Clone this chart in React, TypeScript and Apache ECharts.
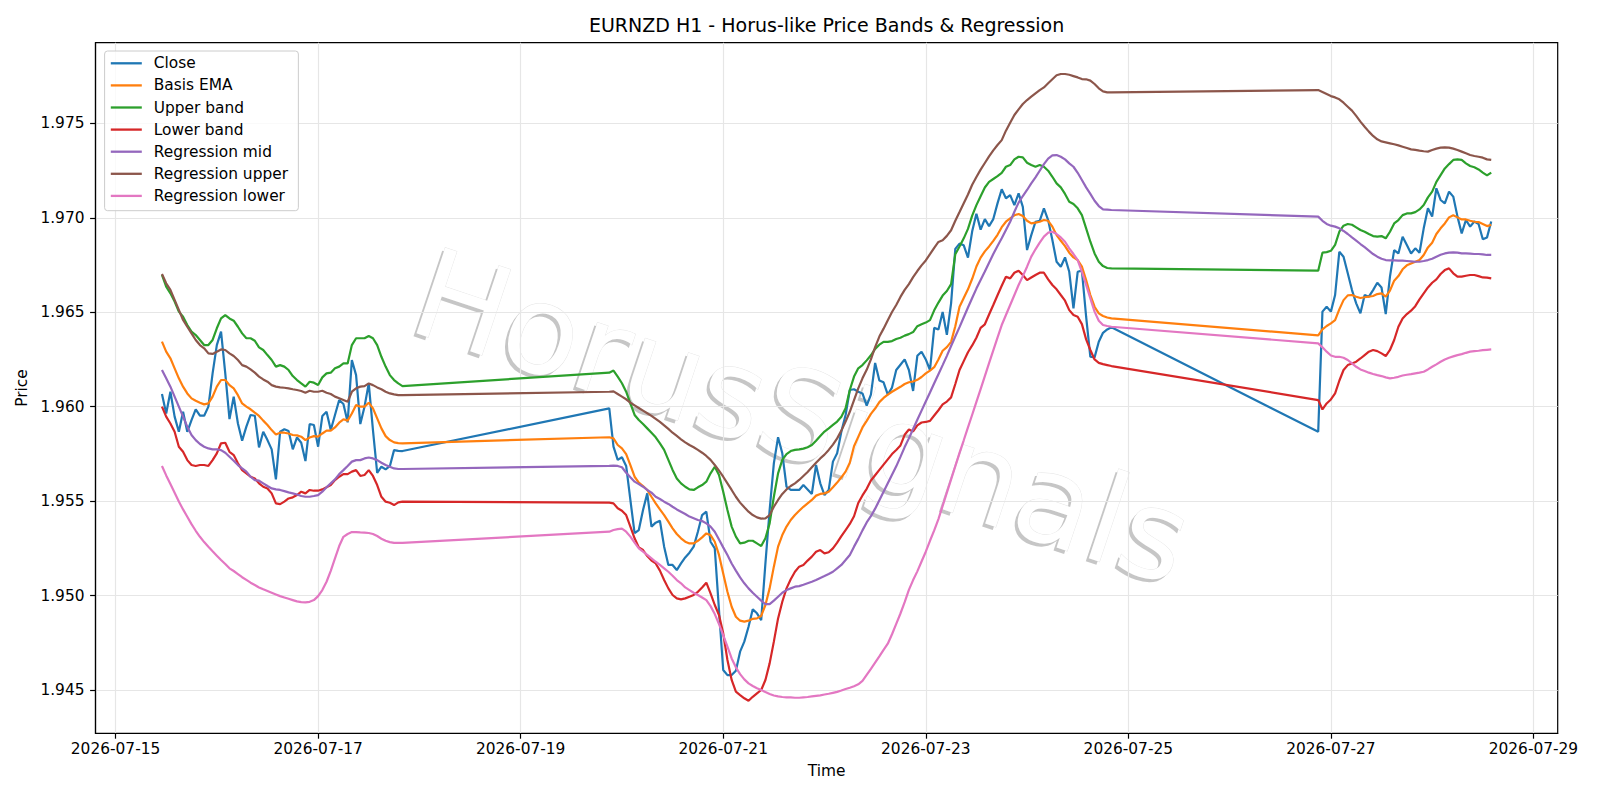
import React, { useEffect, useRef } from "react";
import * as echarts from "echarts";

const TITLE = "EURNZD H1 - Horus-like Price Bands & Regression";
const WATERMARK = "HorusSignals";
const X_NAME = "Time";
const Y_NAME = "Price";
const START_UTC = Date.UTC(2026, 6, 15, 0, 0, 0); // hour 0 = 2026-07-15 00:00

// trading sessions (hour offsets from 2026-07-15 00:00, inclusive), hourly bars
const sessionHours: [number, number][] = [
  [11, 68],
  [117, 236],
  [285, 326],
];

const xTickHours = [0, 48, 96, 144, 192, 240, 288, 336];
const yTicks = [1.945, 1.95, 1.955, 1.96, 1.965, 1.97, 1.975];

const seriesNames = [
  "Close",
  "Basis EMA",
  "Upper band",
  "Lower band",
  "Regression mid",
  "Regression upper",
  "Regression lower",
];
const seriesColors = ["#1f77b4", "#ff7f0e", "#2ca02c", "#d62728", "#9467bd", "#8c564b", "#e377c2"];

const close = [
  1.96067, 1.95964, 1.96079, 1.95947, 1.95867, 1.95973, 1.95867, 1.95929, 1.95986, 1.95952,
  1.95952, 1.96000, 1.96176, 1.96326, 1.96397, 1.96176, 1.95934, 1.96053, 1.95911, 1.95820,
  1.95894, 1.95956, 1.95952, 1.95784, 1.95867, 1.95823, 1.95774, 1.95615, 1.95867, 1.95880,
  1.95871, 1.95774, 1.95837, 1.95809, 1.95712, 1.95908, 1.95903, 1.95788, 1.95950, 1.95973,
  1.95876, 1.95956, 1.96035, 1.96014, 1.95917, 1.96247, 1.96167, 1.95908, 1.96000, 1.96123,
  1.95876, 1.95650, 1.95682, 1.95668, 1.95685, 1.95770, 1.95766, 1.95765,
  1.95991, 1.95788, 1.95718, 1.95732, 1.95686, 1.95506, 1.95330, 1.95347, 1.95453, 1.95541,
  1.95365, 1.95386, 1.95396, 1.95259, 1.95162, 1.95162, 1.95135, 1.95170, 1.95202, 1.95227,
  1.95259, 1.95338, 1.95426, 1.95444, 1.95285, 1.95250, 1.94923, 1.94606, 1.94579, 1.94579,
  1.94602, 1.94703, 1.94756, 1.94835, 1.94927, 1.94906, 1.94870, 1.95170, 1.95453, 1.95700,
  1.95838, 1.95753, 1.95576, 1.95559, 1.95559, 1.95559, 1.95585, 1.95562, 1.95538, 1.95691,
  1.95594, 1.95532, 1.95559, 1.95709, 1.95753, 1.95868, 1.95956, 1.96088, 1.96092, 1.96079,
  1.96070, 1.96005, 1.96064, 1.96231, 1.96139, 1.96129, 1.96064, 1.96101, 1.96194, 1.96222,
  1.96250, 1.96194, 1.96083, 1.96269, 1.96291, 1.96250, 1.96194, 1.96417, 1.96408, 1.96501,
  1.96380, 1.96547, 1.96835, 1.96863, 1.96854, 1.96789, 1.96928, 1.97021, 1.96937, 1.96993,
  1.96956, 1.96993, 1.97076, 1.97151, 1.97103, 1.97120, 1.97067, 1.97129, 1.97058, 1.96829,
  1.96908, 1.96979, 1.96984, 1.97050, 1.96988, 1.96882, 1.96767, 1.96741, 1.96790, 1.96714,
  1.96520, 1.96714, 1.96720, 1.96476, 1.96264, 1.96261, 1.96344, 1.96391, 1.96409, 1.96420,
  1.95867, 1.96503, 1.96529, 1.96503, 1.96591, 1.96820, 1.96794, 1.96706, 1.96617, 1.96547,
  1.96494, 1.96591, 1.96582, 1.96617, 1.96656, 1.96631, 1.96490, 1.96688, 1.96829, 1.96811,
  1.96900, 1.96856, 1.96811, 1.96838, 1.96815, 1.96944, 1.97050, 1.97006, 1.97156, 1.97094,
  1.97076, 1.97138, 1.97112, 1.97006, 1.96917, 1.96988, 1.96953, 1.96980, 1.96967, 1.96886,
  1.96896, 1.96980,
];

const basisEma = [
  1.96344, 1.96291, 1.96256, 1.96203, 1.96150, 1.96106, 1.96070, 1.96044, 1.96031, 1.96021,
  1.96012, 1.96017, 1.96053, 1.96106, 1.96141, 1.96141, 1.96114, 1.96097, 1.96061, 1.96017,
  1.96000, 1.95986, 1.95968, 1.95951, 1.95926, 1.95903, 1.95876, 1.95853, 1.95862, 1.95862,
  1.95858, 1.95850, 1.95848, 1.95841, 1.95823, 1.95837, 1.95844, 1.95841, 1.95858, 1.95873,
  1.95873, 1.95890, 1.95915, 1.95933, 1.95926, 1.95964, 1.96009, 1.96000, 1.96000, 1.96021,
  1.95991, 1.95938, 1.95885, 1.95844, 1.95823, 1.95811, 1.95807, 1.95806,
  1.95838, 1.95832, 1.95797, 1.95779, 1.95749, 1.95691, 1.95629, 1.95598, 1.95580, 1.95559,
  1.95523, 1.95488, 1.95456, 1.95426, 1.95391, 1.95356, 1.95326, 1.95303, 1.95285, 1.95276,
  1.95276, 1.95290, 1.95308, 1.95329, 1.95320, 1.95285, 1.95215, 1.95117, 1.95020, 1.94941,
  1.94888, 1.94867, 1.94862, 1.94867, 1.94877, 1.94879, 1.94892, 1.94950, 1.95038, 1.95153,
  1.95259, 1.95320, 1.95365, 1.95400, 1.95426, 1.95449, 1.95470, 1.95488, 1.95506, 1.95529,
  1.95538, 1.95541, 1.95550, 1.95573, 1.95598, 1.95626, 1.95656, 1.95703, 1.95790, 1.95840,
  1.95890, 1.95925, 1.95962, 1.95990, 1.96024, 1.96046, 1.96064, 1.96079, 1.96092, 1.96105,
  1.96120, 1.96129, 1.96133, 1.96142, 1.96157, 1.96176, 1.96191, 1.96209, 1.96250, 1.96296,
  1.96315, 1.96343, 1.96426, 1.96529, 1.96575, 1.96621, 1.96677, 1.96742, 1.96789, 1.96822,
  1.96848, 1.96878, 1.96910, 1.96950, 1.96979, 1.96997, 1.97013, 1.97020, 1.97009, 1.96984,
  1.96970, 1.96974, 1.96979, 1.96988, 1.96984, 1.96953, 1.96908, 1.96878, 1.96850, 1.96815,
  1.96790, 1.96776, 1.96741, 1.96670, 1.96591, 1.96529, 1.96494, 1.96480, 1.96472, 1.96467,
  1.96377, 1.96409, 1.96427, 1.96441, 1.96458, 1.96515, 1.96564, 1.96589, 1.96591, 1.96582,
  1.96575, 1.96579, 1.96582, 1.96586, 1.96596, 1.96600, 1.96582, 1.96614, 1.96667, 1.96691,
  1.96727, 1.96748, 1.96758, 1.96767, 1.96776, 1.96803, 1.96843, 1.96868, 1.96914, 1.96944,
  1.96970, 1.97002, 1.97013, 1.97002, 1.96991, 1.96991, 1.96984, 1.96979, 1.96977, 1.96967,
  1.96956, 1.96962,
];

const upperBand = [
  1.96697, 1.96635, 1.96600, 1.96556, 1.96503, 1.96476, 1.96432, 1.96397, 1.96379, 1.96353,
  1.96326, 1.96326, 1.96353, 1.96415, 1.96467, 1.96485, 1.96467, 1.96455, 1.96423, 1.96388,
  1.96362, 1.96362, 1.96349, 1.96314, 1.96300, 1.96273, 1.96247, 1.96212, 1.96220, 1.96212,
  1.96194, 1.96162, 1.96141, 1.96123, 1.96106, 1.96132, 1.96127, 1.96115, 1.96155, 1.96176,
  1.96180, 1.96203, 1.96212, 1.96229, 1.96229, 1.96326, 1.96362, 1.96362, 1.96362, 1.96374,
  1.96362, 1.96326, 1.96264, 1.96212, 1.96167, 1.96141, 1.96123, 1.96109,
  1.96180, 1.96191, 1.96159, 1.96124, 1.96079, 1.96018, 1.95956, 1.95929, 1.95908, 1.95885,
  1.95862, 1.95838, 1.95806, 1.95771, 1.95718, 1.95665, 1.95620, 1.95594, 1.95576, 1.95562,
  1.95559, 1.95573, 1.95585, 1.95603, 1.95647, 1.95682, 1.95638, 1.95550, 1.95453, 1.95365,
  1.95312, 1.95276, 1.95280, 1.95290, 1.95290, 1.95276, 1.95262, 1.95303, 1.95382, 1.95523,
  1.95647, 1.95718, 1.95749, 1.95765, 1.95771, 1.95774, 1.95778, 1.95785, 1.95797, 1.95820,
  1.95845, 1.95868, 1.95885, 1.95903, 1.95921, 1.95947, 1.95991, 1.96088, 1.96159, 1.96203,
  1.96220, 1.96245, 1.96272, 1.96306, 1.96328, 1.96343, 1.96343, 1.96347, 1.96358, 1.96365,
  1.96376, 1.96384, 1.96395, 1.96426, 1.96436, 1.96445, 1.96458, 1.96510, 1.96551, 1.96588,
  1.96612, 1.96649, 1.96807, 1.96848, 1.96891, 1.96941, 1.97011, 1.97067, 1.97114, 1.97160,
  1.97190, 1.97205, 1.97220, 1.97238, 1.97270, 1.97279, 1.97309, 1.97323, 1.97320, 1.97291,
  1.97279, 1.97270, 1.97279, 1.97270, 1.97249, 1.97217, 1.97182, 1.97161, 1.97126, 1.97085,
  1.97073, 1.97050, 1.97014, 1.96944, 1.96873, 1.96811, 1.96767, 1.96744, 1.96734, 1.96732,
  1.96720, 1.96815, 1.96818, 1.96825, 1.96856, 1.96926, 1.96958, 1.96967, 1.96963, 1.96949,
  1.96935, 1.96926, 1.96914, 1.96903, 1.96900, 1.96903, 1.96891, 1.96926, 1.96970, 1.96988,
  1.97014, 1.97023, 1.97023, 1.97030, 1.97044, 1.97067, 1.97108, 1.97138, 1.97190, 1.97226,
  1.97261, 1.97284, 1.97306, 1.97309, 1.97306, 1.97288, 1.97274, 1.97267, 1.97256, 1.97239,
  1.97224, 1.97239,
];

const lowerBand = [
  1.96000, 1.95947, 1.95911, 1.95867, 1.95788, 1.95761, 1.95717, 1.95691, 1.95686, 1.95691,
  1.95691, 1.95686, 1.95717, 1.95753, 1.95806, 1.95809, 1.95761, 1.95744, 1.95700, 1.95664,
  1.95647, 1.95629, 1.95620, 1.95594, 1.95576, 1.95567, 1.95541, 1.95488, 1.95484, 1.95497,
  1.95514, 1.95520, 1.95532, 1.95550, 1.95541, 1.95559, 1.95555, 1.95555, 1.95562, 1.95573,
  1.95585, 1.95611, 1.95629, 1.95643, 1.95643, 1.95656, 1.95664, 1.95633, 1.95638, 1.95664,
  1.95633, 1.95585, 1.95523, 1.95497, 1.95491, 1.95479, 1.95493, 1.95497,
  1.95492, 1.95488, 1.95462, 1.95449, 1.95426, 1.95365, 1.95303, 1.95255, 1.95241, 1.95209,
  1.95185, 1.95170, 1.95132, 1.95082, 1.95038, 1.95003, 1.94985, 1.94980, 1.94985, 1.94994,
  1.95003, 1.95020, 1.95043, 1.95068, 1.95012, 1.94950, 1.94897, 1.94800, 1.94659, 1.94553,
  1.94491, 1.94473, 1.94456, 1.94443, 1.94464, 1.94482, 1.94500, 1.94553, 1.94641, 1.94756,
  1.94879, 1.94967, 1.95038, 1.95086, 1.95126, 1.95153, 1.95162, 1.95185, 1.95206, 1.95232,
  1.95241, 1.95223, 1.95229, 1.95250, 1.95280, 1.95315, 1.95347, 1.95379, 1.95420, 1.95490,
  1.95530, 1.95565, 1.95609, 1.95637, 1.95665, 1.95693, 1.95721, 1.95749, 1.95771, 1.95795,
  1.95851, 1.95879, 1.95869, 1.95901, 1.95916, 1.95919, 1.95925, 1.95953, 1.95981, 1.96012,
  1.96027, 1.96049, 1.96120, 1.96194, 1.96241, 1.96288, 1.96324, 1.96365, 1.96417, 1.96436,
  1.96488, 1.96538, 1.96590, 1.96640, 1.96688, 1.96679, 1.96709, 1.96720, 1.96697, 1.96670,
  1.96684, 1.96697, 1.96709, 1.96709, 1.96674, 1.96644, 1.96621, 1.96591, 1.96561, 1.96511,
  1.96485, 1.96476, 1.96437, 1.96356, 1.96300, 1.96250, 1.96232, 1.96225, 1.96220, 1.96215,
  1.96035, 1.95985, 1.96017, 1.96038, 1.96070, 1.96137, 1.96194, 1.96220, 1.96229, 1.96238,
  1.96255, 1.96273, 1.96291, 1.96300, 1.96294, 1.96282, 1.96268, 1.96300, 1.96353, 1.96423,
  1.96467, 1.96490, 1.96508, 1.96532, 1.96568, 1.96600, 1.96631, 1.96656, 1.96674, 1.96702,
  1.96723, 1.96732, 1.96706, 1.96688, 1.96688, 1.96693, 1.96697, 1.96697, 1.96691, 1.96684,
  1.96683, 1.96679,
];

const regressionMid = [
  1.96194, 1.96150, 1.96106, 1.96053, 1.96000, 1.95947, 1.95894, 1.95850, 1.95823, 1.95802,
  1.95788, 1.95779, 1.95774, 1.95774, 1.95770, 1.95756, 1.95735, 1.95714, 1.95691, 1.95673,
  1.95656, 1.95629, 1.95611, 1.95608, 1.95594, 1.95580, 1.95567, 1.95562, 1.95559, 1.95553,
  1.95546, 1.95541, 1.95535, 1.95527, 1.95523, 1.95523, 1.95527, 1.95532, 1.95550, 1.95573,
  1.95594, 1.95615, 1.95643, 1.95664, 1.95686, 1.95709, 1.95717, 1.95717, 1.95726, 1.95731,
  1.95726, 1.95717, 1.95703, 1.95691, 1.95682, 1.95673, 1.95670, 1.95670,
  1.95686, 1.95688, 1.95686, 1.95679, 1.95650, 1.95626, 1.95603, 1.95590, 1.95576, 1.95559,
  1.95545, 1.95523, 1.95511, 1.95497, 1.95485, 1.95470, 1.95456, 1.95444, 1.95432, 1.95418,
  1.95409, 1.95400, 1.95395, 1.95382, 1.95365, 1.95338, 1.95297, 1.95255, 1.95215, 1.95170,
  1.95132, 1.95096, 1.95065, 1.95038, 1.95015, 1.94994, 1.94973, 1.94955, 1.94955, 1.94973,
  1.94994, 1.95015, 1.95029, 1.95038, 1.95047, 1.95050, 1.95057, 1.95065, 1.95073, 1.95082,
  1.95093, 1.95103, 1.95114, 1.95126, 1.95144, 1.95162, 1.95188, 1.95215, 1.95259, 1.95300,
  1.95345, 1.95387, 1.95420, 1.95460, 1.95505, 1.95550, 1.95595, 1.95640, 1.95684, 1.95734,
  1.95786, 1.95832, 1.95882, 1.95931, 1.95979, 1.96027, 1.96075, 1.96124, 1.96172, 1.96220,
  1.96269, 1.96321, 1.96371, 1.96421, 1.96473, 1.96525, 1.96575, 1.96625, 1.96670, 1.96715,
  1.96762, 1.96808, 1.96850, 1.96891, 1.96935, 1.96979, 1.97032, 1.97080, 1.97115, 1.97147,
  1.97182, 1.97214, 1.97249, 1.97284, 1.97313, 1.97330, 1.97332, 1.97323, 1.97309, 1.97288,
  1.97270, 1.97238, 1.97200, 1.97161, 1.97126, 1.97090, 1.97062, 1.97044, 1.97043, 1.97041,
  1.97006, 1.96984, 1.96967, 1.96958, 1.96953, 1.96944, 1.96930, 1.96914, 1.96896, 1.96879,
  1.96861, 1.96844, 1.96826, 1.96808, 1.96794, 1.96783, 1.96776, 1.96774, 1.96774, 1.96773,
  1.96773, 1.96771, 1.96769, 1.96767, 1.96767, 1.96771, 1.96776, 1.96783, 1.96794, 1.96804,
  1.96811, 1.96815, 1.96817, 1.96815, 1.96811, 1.96811, 1.96810, 1.96808, 1.96808, 1.96806,
  1.96803, 1.96803,
];

const regressionUpper = [
  1.96702, 1.96653, 1.96618, 1.96565, 1.96512, 1.96459, 1.96423, 1.96388, 1.96353, 1.96326,
  1.96309, 1.96282, 1.96279, 1.96291, 1.96303, 1.96300, 1.96282, 1.96268, 1.96247, 1.96220,
  1.96212, 1.96197, 1.96180, 1.96159, 1.96144, 1.96132, 1.96114, 1.96106, 1.96102, 1.96100,
  1.96097, 1.96092, 1.96088, 1.96083, 1.96074, 1.96084, 1.96079, 1.96079, 1.96084, 1.96074,
  1.96067, 1.96053, 1.96044, 1.96035, 1.96026, 1.96079, 1.96097, 1.96106, 1.96109, 1.96123,
  1.96114, 1.96102, 1.96092, 1.96079, 1.96070, 1.96065, 1.96061, 1.96061,
  1.96079, 1.96081, 1.96067, 1.96053, 1.96039, 1.96021, 1.96007, 1.95993, 1.95979, 1.95965,
  1.95951, 1.95935, 1.95919, 1.95901, 1.95882, 1.95862, 1.95845, 1.95827, 1.95811, 1.95797,
  1.95785, 1.95771, 1.95756, 1.95739, 1.95718, 1.95691, 1.95661, 1.95629, 1.95594, 1.95559,
  1.95523, 1.95492, 1.95467, 1.95444, 1.95426, 1.95414, 1.95407, 1.95409, 1.95426, 1.95470,
  1.95506, 1.95538, 1.95562, 1.95580, 1.95594, 1.95612, 1.95633, 1.95654, 1.95679, 1.95703,
  1.95726, 1.95746, 1.95771, 1.95799, 1.95832, 1.95873, 1.95921, 1.95973, 1.96035, 1.96097,
  1.96150, 1.96195, 1.96250, 1.96315, 1.96371, 1.96413, 1.96458, 1.96501, 1.96538, 1.96581,
  1.96618, 1.96649, 1.96686, 1.96718, 1.96748, 1.96774, 1.96807, 1.96841, 1.96872, 1.96881,
  1.96904, 1.96934, 1.96984, 1.97030, 1.97077, 1.97123, 1.97175, 1.97216, 1.97255, 1.97290,
  1.97325, 1.97357, 1.97385, 1.97411, 1.97461, 1.97503, 1.97544, 1.97574, 1.97602, 1.97623,
  1.97641, 1.97659, 1.97676, 1.97690, 1.97712, 1.97733, 1.97754, 1.97761, 1.97761, 1.97757,
  1.97750, 1.97743, 1.97734, 1.97733, 1.97726, 1.97708, 1.97685, 1.97669, 1.97664, 1.97664,
  1.97676, 1.97666, 1.97655, 1.97644, 1.97637, 1.97627, 1.97609, 1.97588, 1.97567, 1.97539,
  1.97509, 1.97482, 1.97456, 1.97433, 1.97415, 1.97404, 1.97399, 1.97394, 1.97389, 1.97383,
  1.97376, 1.97369, 1.97362, 1.97359, 1.97355, 1.97352, 1.97350, 1.97359, 1.97366, 1.97371,
  1.97373, 1.97371, 1.97366, 1.97359, 1.97350, 1.97341, 1.97332, 1.97327, 1.97323, 1.97318,
  1.97309, 1.97306,
];

const regressionLower = [
  1.95686, 1.95636, 1.95590, 1.95544, 1.95498, 1.95456, 1.95417, 1.95378, 1.95343, 1.95311,
  1.95283, 1.95258, 1.95234, 1.95211, 1.95188, 1.95167, 1.95144, 1.95130, 1.95114, 1.95097,
  1.95083, 1.95068, 1.95056, 1.95043, 1.95033, 1.95024, 1.95015, 1.95006, 1.94997, 1.94990,
  1.94983, 1.94976, 1.94969, 1.94965, 1.94964, 1.94967, 1.94976, 1.94997, 1.95029, 1.95073,
  1.95131, 1.95197, 1.95262, 1.95311, 1.95326, 1.95336, 1.95336, 1.95334, 1.95333, 1.95331,
  1.95326, 1.95315, 1.95301, 1.95290, 1.95283, 1.95279, 1.95279, 1.95279,
  1.95338, 1.95347, 1.95352, 1.95354, 1.95338, 1.95312, 1.95280, 1.95250, 1.95232, 1.95215,
  1.95197, 1.95179, 1.95162, 1.95144, 1.95126, 1.95105, 1.95082, 1.95065, 1.95043, 1.95029,
  1.95015, 1.95003, 1.94990, 1.94976, 1.94944, 1.94902, 1.94849, 1.94791, 1.94729, 1.94667,
  1.94620, 1.94584, 1.94556, 1.94535, 1.94521, 1.94509, 1.94500, 1.94489, 1.94479, 1.94471,
  1.94466, 1.94463, 1.94461, 1.94461, 1.94459, 1.94459, 1.94461, 1.94463, 1.94466, 1.94469,
  1.94472, 1.94476, 1.94480, 1.94485, 1.94490, 1.94497, 1.94505, 1.94512, 1.94520, 1.94530,
  1.94548, 1.94580, 1.94612, 1.94645, 1.94678, 1.94712, 1.94745, 1.94795, 1.94850, 1.94905,
  1.94965, 1.95030, 1.95082, 1.95128, 1.95180, 1.95232, 1.95290, 1.95345, 1.95405, 1.95475,
  1.95545, 1.95615, 1.95685, 1.95755, 1.95822, 1.95890, 1.95957, 1.96025, 1.96093, 1.96162,
  1.96230, 1.96298, 1.96365, 1.96432, 1.96485, 1.96538, 1.96591, 1.96644, 1.96691, 1.96741,
  1.96794, 1.96833, 1.96868, 1.96900, 1.96921, 1.96926, 1.96914, 1.96896, 1.96873, 1.96838,
  1.96808, 1.96776, 1.96714, 1.96644, 1.96573, 1.96503, 1.96455, 1.96432, 1.96427, 1.96423,
  1.96335, 1.96314, 1.96291, 1.96271, 1.96264, 1.96264, 1.96259, 1.96247, 1.96229, 1.96211,
  1.96197, 1.96189, 1.96180, 1.96173, 1.96167, 1.96162, 1.96155, 1.96150, 1.96153, 1.96158,
  1.96165, 1.96169, 1.96172, 1.96176, 1.96180, 1.96185, 1.96197, 1.96211, 1.96224, 1.96238,
  1.96250, 1.96259, 1.96266, 1.96273, 1.96278, 1.96285, 1.96291, 1.96294, 1.96296, 1.96299,
  1.96301, 1.96303,
];

const seriesValues = [close, basisEma, upperBand, lowerBand, regressionMid, regressionUpper, regressionLower];

const FONT = "DejaVu Sans";

function buildHours(): number[] {
  const out: number[] = [];
  for (const [a, b] of sessionHours) for (let h = a; h <= b; h++) out.push(h);
  return out;
}

function fmtDate(hours: number): string {
  const d = new Date(START_UTC + hours * 3600 * 1000);
  return d.toISOString().slice(0, 10);
}

export default function App() {
  const ref = useRef<HTMLDivElement>(null);

  useEffect(() => {
    if (!ref.current) return;
    const chart = echarts.init(ref.current, null, { renderer: "svg" });
    const hours = buildHours();

    const series = seriesNames.map((name, i) => ({
      name,
      type: "line",
      data: hours.map((h, k) => [h, seriesValues[i][k]]),
      symbol: "none",
      showSymbol: false,
      smooth: false,
      lineStyle: { color: seriesColors[i], width: 2.2 },
      itemStyle: { color: seriesColors[i] },
      emphasis: { disabled: true },
      z: 2 + i * 0.01,
    }));

    const rot = (-18.5 * Math.PI) / 180;
    const wmX = 802;
    const wmY = 417;

    chart.setOption({
      animation: false,
      backgroundColor: "#ffffff",
      textStyle: { fontFamily: FONT },
      grid: {
        left: 95.5,
        top: 42.7,
        right: 42.3,
        bottom: 66.7,
        containLabel: false,
        show: true,
        borderColor: "#000000",
        borderWidth: 1.2,
        backgroundColor: "transparent",
      },
      xAxis: {
        type: "value",
        min: -4.75,
        max: 341.75,
        splitNumber: 7,
        minInterval: 48,
        maxInterval: 48,
        name: X_NAME,
        nameLocation: "middle",
        nameGap: 30,
        nameTextStyle: { fontSize: 15.4, color: "#000", fontFamily: FONT },
        axisLine: { show: true, onZero: false, lineStyle: { color: "#000", width: 1.2 } },
        axisTick: { show: true, length: 5.4, lineStyle: { color: "#000", width: 1.2 }, customValues: xTickHours },
        axisLabel: {
          customValues: xTickHours,
          fontSize: 15.4,
          color: "#000",
          fontFamily: FONT,
          margin: 8.5,
          formatter: (v: number) => (xTickHours.indexOf(Math.round(v)) >= 0 ? fmtDate(v) : ""),
        },
        splitLine: { show: true, lineStyle: { color: "#e6e6e6", width: 1.2 } },
      },
      yAxis: {
        type: "value",
        min: 1.942708,
        max: 1.979267,
        splitNumber: 7,
        minInterval: 0.005,
        maxInterval: 0.005,
        scale: true,
        name: Y_NAME,
        nameLocation: "middle",
        nameGap: 61,
        nameRotate: 90,
        nameTextStyle: { fontSize: 15.4, color: "#000", fontFamily: FONT },
        axisLine: { show: true, onZero: false, lineStyle: { color: "#000", width: 1.2 } },
        axisTick: { show: true, length: 5.4, lineStyle: { color: "#000", width: 1.2 }, customValues: yTicks },
        axisLabel: {
          customValues: yTicks,
          fontSize: 15.4,
          color: "#000",
          fontFamily: FONT,
          margin: 11,
          formatter: (v: number) => v.toFixed(3),
        },
        splitLine: { show: true, lineStyle: { color: "#e6e6e6", width: 1.2 } },
      },
      legend: {
        show: true,
        orient: "vertical",
        left: 104.6,
        top: 51,
        data: seriesNames,
        icon: "rect",
        itemWidth: 31,
        itemHeight: 2.3,
        itemGap: 6.7,
        padding: [4.6, 10.4, 7.1, 6.2],
        backgroundColor: "rgba(255,255,255,0.8)",
        borderColor: "#cccccc",
        borderWidth: 1,
        borderRadius: 3,
        selectedMode: false,
        textStyle: { fontSize: 15.4, color: "#000", fontFamily: FONT, padding: [0, 0, 0, 7], lineHeight: 15.4 },
      },
      graphic: [
        {
          type: "text",
          z: -1,
          silent: true,
          x: wmX - 3,
          y: wmY + 3,
          rotation: rot,
          style: {
            text: WATERMARK,
            fontSize: 124,
            fontFamily: FONT,
            fill: "rgba(120,120,120,0.42)",
            textAlign: "center",
            textVerticalAlign: "middle",
          },
        },
        {
          type: "text",
          z: -1,
          silent: true,
          x: wmX,
          y: wmY,
          rotation: rot,
          style: {
            text: WATERMARK,
            fontSize: 124,
            fontFamily: FONT,
            fill: "#ffffff",
            stroke: "rgba(200,200,200,0.5)",
            lineWidth: 0.8,
            textAlign: "center",
            textVerticalAlign: "middle",
          },
        },
        {
          type: "text",
          silent: true,
          x: 826.6,
          y: 25,
          style: {
            text: TITLE,
            fontSize: 19,
            fontFamily: FONT,
            fill: "#000",
            textAlign: "center",
            textVerticalAlign: "middle",
          },
        },
      ],
      series,
    });

    return () => chart.dispose();
  }, []);

  return (
    <div
      ref={ref}
      style={{ position: "fixed", left: 0, top: 0, width: 1600, height: 800, background: "#fff" }}
    />
  );
}
